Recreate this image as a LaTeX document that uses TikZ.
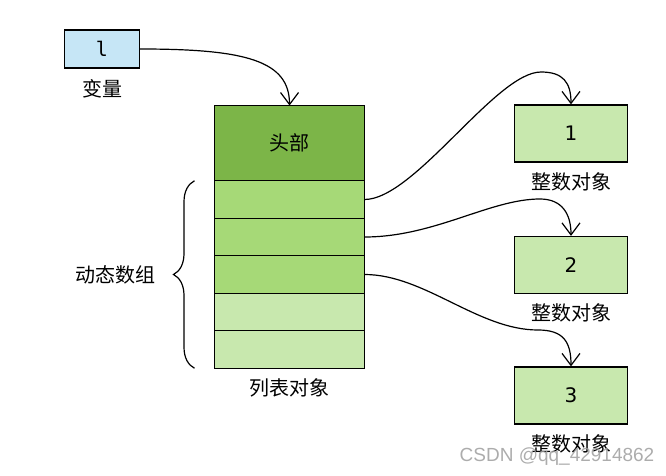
\documentclass[tikz,border=0pt]{standalone}
\usepackage{fontspec}
\setmainfont{DejaVu Sans}
\setmonofont{DejaVu Sans Mono}
\newfontfamily\cjk{Noto Sans CJK SC}
\newfontfamily\wmfont{Liberation Sans}
\usetikzlibrary{arrows.meta,decorations.pathreplacing,positioning,calc}
\definecolor{varblue}{RGB}{198,230,246}
\definecolor{headgreen}{RGB}{124,181,72}
\definecolor{rowgreen}{RGB}{166,217,119}
\definecolor{intgreen}{RGB}{200,232,174}
\tikzset{
  cell/.style={draw, line width=1.3pt, minimum width=150pt, minimum height=37.5pt,
    inner sep=0pt, outer sep=0pt},
  intbox/.style={draw, line width=1.3pt, fill=intgreen, minimum width=113pt,
    minimum height=57pt, font=\fontsize{20}{24}\selectfont},
  lbl/.style={font=\cjk\fontsize{20}{24}\selectfont},
  ptr/.style={line width=1.2pt, -{Straight Barb[length=12pt,width=18pt,line width=1.2pt]}}
}
\begin{document}
\begin{tikzpicture}[x=1pt,y=1pt]
  \useasboundingbox (0,0) rectangle (666,-476);
  % variable
  \node [draw, line width=1.3pt, fill=varblue, minimum width=75pt, minimum height=38pt,
    font=\ttfamily\fontsize{20}{24}\selectfont] (var) at (102,-49) {l};
  \node [lbl, below=7pt of var] (varlbl) {变量};
  % list object
  \node [cell, fill=headgreen, minimum height=75pt, font=\cjk\fontsize{20}{24}\selectfont]
    (head) at (289.5,-143) {头部};
  \foreach \c [count=\i] in {rowgreen,rowgreen,rowgreen,intgreen,intgreen}
    \node [cell, fill=\c] (row\i) at (289.5,{-162-37.5*\i}) {};
  \node [lbl, below=7pt of row5] (listlbl) {列表对象};
  % brace
  \draw [line width=1.2pt, decorate, decoration={brace, amplitude=21pt}]
    ($(row5.south west)+(-20,0)$) -- ($(row1.north west)+(-20,0)$);
  \coordinate (tip) at ($(row3.west)+(-41,0)$);
  \node [lbl, left=14pt of tip] (dynlbl) {动态数组};
  % integer objects
  \foreach \n/\y in {1/-133.5, 2/-265, 3/-395.5} {
    \node [intbox] (int\n) at (571,\y) {\n};
    \node [lbl, below=6pt of int\n] (intlbl\n) {整数对象};
  }
  % pointers
  \coordinate (peak1) at (541,-72);
  \coordinate (peak2) at (540,-199);
  \coordinate (knee3) at (538,-330);
  \draw [ptr] (var.east) .. controls +(105,0) and +(0,45) .. (head.north);
  \draw [ptr] (row1.east) .. controls +(50,0) and +(-45,0) .. (peak1)
    .. controls +(22,0) and +(0,22) .. (int1.north);
  \draw [ptr] (row2.east) .. controls +(70,0) and +(-50,0) .. (peak2)
    .. controls +(22,0) and +(0,22) .. (int2.north);
  \draw [ptr] (row3.east) .. controls +(60,0) and +(-60,0) .. (knee3)
    .. controls +(25,0) and +(0,25) .. (int3.north);
  % watermark
  \node [font=\wmfont\fontsize{19}{22}\selectfont, text=black!38, text opacity=0.85]
    (mark) at (557,-457) {CSDN @qq\_42914862};
\end{tikzpicture}
\end{document}
